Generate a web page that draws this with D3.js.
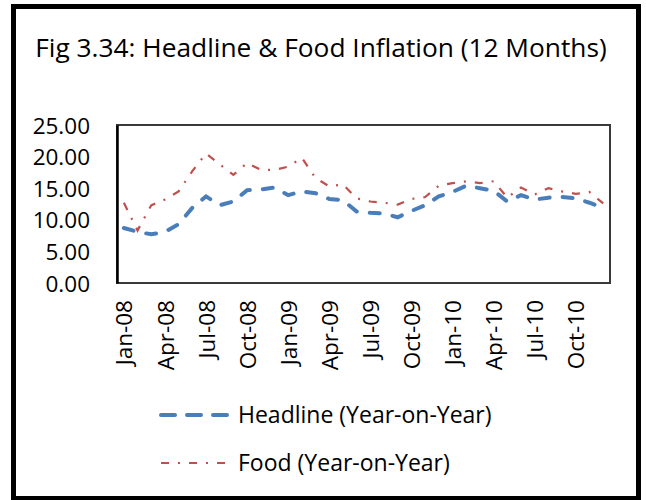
<!DOCTYPE html>
<html>
<head>
<meta charset="utf-8">
<script src="https://cdn.jsdelivr.net/npm/d3@7"></script>
<style>
  body { margin: 0; background: #fff; }
  text { font-family: 'Open Sans', 'Noto Sans', sans-serif; fill: #000; }
</style>
</head>
<body>
<div id="chart"></div>
<script>
// monthly series, Jan-08 .. Dec-10
const monthNames = ['Jan', 'Feb', 'Mar', 'Apr', 'May', 'Jun', 'Jul', 'Aug', 'Sep', 'Oct', 'Nov', 'Dec']
const years = ['08', '09', '10']
const months = years.flatMap(y => monthNames.map(m => `${m}-${y}`))

const headline = [
  8.7, 8.1, 7.7, 8.1, 9.3, 11.9, 13.7, 12.3, 12.9, 14.7, 14.8, 15.1,
  13.9, 14.5, 14.2, 13.3, 13.1, 11.3, 11.1, 11.0, 10.4, 11.4, 12.3, 13.7,
  14.4, 15.4, 15.0, 14.6, 12.9, 13.9, 13.2, 13.5, 13.6, 13.4, 12.7, 11.9
]
const food = [
  12.7, 8.3, 12.3, 13.2, 14.5, 17.7, 20.5, 18.8, 17.1, 19.0, 17.9, 17.9,
  18.4, 19.8, 16.6, 15.3, 15.6, 13.4, 12.9, 12.7, 12.4, 13.3, 13.6, 15.4,
  15.8, 16.1, 15.8, 16.1, 13.5, 15.1, 14.0, 15.0, 14.5, 14.1, 14.4, 12.6
]
const yTicks = [0, 5, 10, 15, 20, 25]
const xTickLabels = months.filter((d, i) => i % 3 === 0)

const title = 'Fig 3.34: Headline & Food Inflation (12 Months)'
const seriesNames = ['Headline (Year-on-Year)', 'Food (Year-on-Year)']

const width = 646
const height = 500
const plot = { left: 117, right: 610, top: 125, bottom: 283 }
const labelSize = '22.5px'

const svg = d3.select('#chart')
  .append('svg')
  .attr('width', width)
  .attr('height', height)

// outer frame
svg.append('rect')
  .attr('x', 13.5)
  .attr('y', 6.5)
  .attr('width', 625)
  .attr('height', 492)
  .attr('fill', '#fff')
  .attr('stroke', '#000')
  .attr('stroke-width', 5)

svg.append('text')
  .attr('x', 321)
  .attr('y', 57)
  .attr('text-anchor', 'middle')
  .style('font-size', '26.3px')
  .text(title)

const x = d3.scalePoint()
  .domain(months)
  .range([plot.left, plot.right])
  .padding(0.5)

const y = d3.scaleLinear()
  .domain([0, 25])
  .range([plot.bottom, plot.top])

// plot area border
svg.append('rect')
  .attr('x', plot.left)
  .attr('y', plot.top)
  .attr('width', plot.right - plot.left)
  .attr('height', plot.bottom - plot.top)
  .attr('fill', 'none')
  .attr('stroke', '#3a3a3a')
  .attr('stroke-width', 2)

const yAxis = svg.append('g')
  .attr('transform', `translate(${plot.left},0)`)
  .call(d3.axisLeft(y).tickValues(yTicks).tickSize(0).tickPadding(27).tickFormat(d3.format('.2f')))
yAxis.select('.domain').attr('stroke', '#000').attr('stroke-width', 2.5)
yAxis.selectAll('text')
  .style('font-size', labelSize)
  .style('font-family', "'Open Sans', sans-serif")
  .attr('dy', '0.36em')

const xAxis = svg.append('g')
  .attr('transform', `translate(0,${plot.bottom})`)
  .call(d3.axisBottom(x).tickValues(xTickLabels).tickSize(0))
xAxis.select('.domain').remove()
xAxis.selectAll('text')
  .style('font-size', labelSize)
  .style('font-family', "'Open Sans', sans-serif")
  .attr('text-anchor', 'end')
  .attr('transform', 'rotate(-90)')
  .attr('x', -17)
  .attr('y', 0)
  .attr('dy', '0.36em')

const line = d3.line()
  .x((d, i) => x(months[i]))
  .y(d => y(d))

svg.append('path')
  .datum(food)
  .attr('d', line)
  .attr('fill', 'none')
  .attr('stroke', '#C0504D')
  .attr('stroke-width', 2.2)
  .attr('stroke-dasharray', '8,9,2,9')

svg.append('path')
  .datum(headline)
  .attr('d', line)
  .attr('fill', 'none')
  .attr('stroke', '#4A7EBB')
  .attr('stroke-width', 4)
  .attr('stroke-linecap', 'round')
  .attr('stroke-dasharray', '10,13')

// legend
const legend = svg.append('g')
const legendStyles = [
  { color: '#4A7EBB', width: 4, dash: '14,12', cap: 'round' },
  { color: '#C0504D', width: 2.2, dash: '8,9,2,9', cap: 'butt' }
]
seriesNames.forEach((name, i) => {
  const ly = 415 + i * 48
  legend.append('line')
    .attr('x1', 161).attr('x2', 228)
    .attr('y1', ly).attr('y2', ly)
    .attr('stroke', legendStyles[i].color)
    .attr('stroke-width', legendStyles[i].width)
    .attr('stroke-linecap', legendStyles[i].cap)
    .attr('stroke-dasharray', legendStyles[i].dash)
  legend.append('text')
    .attr('x', 238)
    .attr('y', ly)
    .attr('dy', '0.36em')
    .style('font-size', '23px')
    .text(name)
})
</script>
</body>
</html>
